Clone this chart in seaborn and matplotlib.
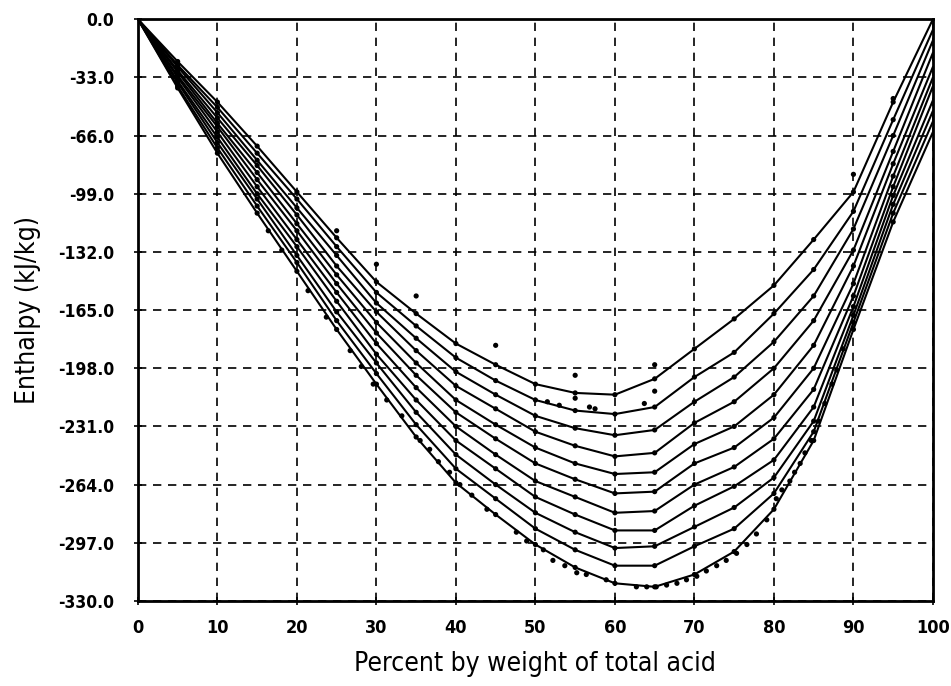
import numpy as np
import pandas as pd
import matplotlib
matplotlib.use("Agg")
import matplotlib.pyplot as plt
import seaborn as sns

# ---- data ----
pct = [0, 5, 10, 15, 20, 25, 30, 35, 40, 45, 50, 55, 60, 65, 70, 75, 80, 85, 90, 95, 100]

curve_01 = [0, -24, -47, -72, -98, -124, -149, -167, -184, -196, -207, -212, -213, -204, -187, -170, -151, -125, -98, -47, 0]
curve_02 = [0, -26, -50, -76, -102, -129, -155, -174, -192, -205, -216, -222, -224, -220, -203, -189, -167, -142, -109, -57, -6]
curve_03 = [0, -27, -53, -80, -107, -134, -161, -181, -200, -213, -225, -232, -236, -233, -217, -203, -183, -157, -119, -66, -12]
curve_04 = [0, -29, -56, -83, -111, -140, -166, -188, -208, -221, -234, -242, -248, -246, -229, -217, -198, -171, -131, -75, -19]
curve_05 = [0, -30, -59, -87, -116, -145, -172, -195, -216, -230, -243, -252, -258, -257, -241, -231, -213, -185, -140, -82, -27]
curve_06 = [0, -32, -61, -91, -120, -150, -178, -202, -223, -238, -252, -261, -269, -268, -252, -243, -226, -198, -150, -89, -33]
curve_07 = [0, -33, -64, -95, -125, -155, -184, -209, -231, -247, -262, -271, -280, -279, -264, -254, -238, -210, -157, -95, -38]
curve_08 = [0, -35, -67, -99, -129, -160, -190, -216, -239, -255, -271, -281, -290, -290, -276, -265, -250, -220, -163, -100, -46]
curve_09 = [0, -36, -70, -102, -134, -166, -195, -223, -247, -264, -280, -291, -300, -299, -288, -277, -260, -228, -168, -105, -52]
curve_10 = [0, -38, -73, -106, -138, -171, -201, -230, -255, -272, -289, -301, -310, -310, -299, -289, -269, -234, -172, -110, -58]
curve_11 = [0, -39, -76, -110, -143, -176, -207, -237, -263, -281, -298, -311, -320, -322, -315, -302, -278, -239, -176, -115, -64]

# extra measured points (dense points along the lowest curve and off-curve points)
extra_x = [16.4, 18.1, 21.4, 23.7, 26.7, 28.1, 29.6, 31.3, 33.2, 35.5, 36.7, 37.8, 39.2, 40.5,
           42.0, 43.9, 47.6, 48.9, 51.0, 52.2, 53.7, 55.2, 56.4, 58.9, 62.7, 64.0, 65.2, 66.5,
           67.8, 69.0, 70.3, 71.5, 72.8, 74.0, 75.3, 76.6, 77.8, 79.1, 80.3, 81.0, 82.0, 82.6,
           83.3, 83.9, 84.7, 85.6, 86.4, 87.3, 87.9, 88.7,
           25.0, 30.0, 35.0, 45.0, 55.0, 65.0, 65.0, 55.0, 63.7, 90.0, 95.0,
           51.5, 53.0, 56.8, 57.5]
extra_y = [-120, -131, -154, -169, -188, -197, -207, -216, -225, -239, -244, -251, -257, -264,
           -270, -278, -291, -296, -301, -307, -310, -314, -315, -318, -322, -322, -322, -321,
           -320, -318, -316, -313, -310, -307, -303, -298, -292, -284, -272, -267, -262, -257,
           -252, -246, -239, -228, -218, -207, -199, -187,
           -120, -139, -157, -185, -202, -196, -211, -215, -218, -88, -45,
           -217, -219, -220, -221]

x_ticks = [0, 10, 20, 30, 40, 50, 60, 70, 80, 90, 100]
y_ticks = [0.0, -33.0, -66.0, -99.0, -132.0, -165.0, -198.0, -231.0, -264.0, -297.0, -330.0]
x_label = "Percent by weight of total acid"
y_label = "Enthalpy (kJ/kg)"

# ---- tables ----
curves = [curve_01, curve_02, curve_03, curve_04, curve_05, curve_06,
          curve_07, curve_08, curve_09, curve_10, curve_11]
rows = []
for i, c in enumerate(curves):
    for xv, yv in zip(pct, c):
        rows.append({"pct": xv, "H": yv, "curve": i})
df = pd.DataFrame(rows)
dots = df[(df.pct > 0) & (df.pct < 100)]
extra = pd.DataFrame({"pct": extra_x, "H": extra_y})

# ---- plot ----
sns.set_theme(style="white")
plt.rcParams["font.family"] = ["DejaVu Sans"]
plt.rcParams["font.stretch"] = "condensed"
plt.rcParams["text.color"] = "black"
plt.rcParams["axes.labelcolor"] = "black"
plt.rcParams["xtick.color"] = "black"
plt.rcParams["ytick.color"] = "black"

fig = plt.figure(figsize=(9.51, 6.86), dpi=100)
ax = fig.add_axes([0.145, 0.124, 0.836, 0.848])

sns.lineplot(data=df, x="pct", y="H", units="curve", estimator=None,
             color="black", lw=1.5, ax=ax, legend=False, zorder=3)
sns.scatterplot(data=dots, x="pct", y="H", color="black", s=14,
                edgecolor="none", ax=ax, zorder=4, legend=False)
sns.scatterplot(data=extra, x="pct", y="H", color="black", s=14,
                edgecolor="none", ax=ax, zorder=4, legend=False)

ax.set_xlim(0, 100)
ax.set_ylim(-330, 0)
ax.set_xticks(x_ticks)
ax.set_xticklabels([str(t) for t in x_ticks], fontweight="bold", fontsize=13,
                   fontstretch="condensed", color="black")
ax.set_yticks(y_ticks)
ax.set_yticklabels([f"{t:.1f}" for t in y_ticks], fontweight="bold", fontsize=12.5,
                   fontstretch="condensed", color="black")

ax.grid(True, color="black", lw=1.2, ls=(0, (5, 4)))
ax.set_axisbelow(True)
for s in ax.spines.values():
    s.set_color("black")
    s.set_linewidth(2)
ax.tick_params(direction="inout", length=6, width=1.2, color="black", pad=10,
               bottom=True, left=True)
ax.tick_params(axis="y", pad=14)

ax.set_xlabel(x_label, fontsize=19, labelpad=10, fontstretch="condensed", color="black")
ax.set_ylabel(y_label, fontsize=19, labelpad=12, fontstretch="condensed", color="black")

fig.savefig("out.png", dpi=100, facecolor="white")
